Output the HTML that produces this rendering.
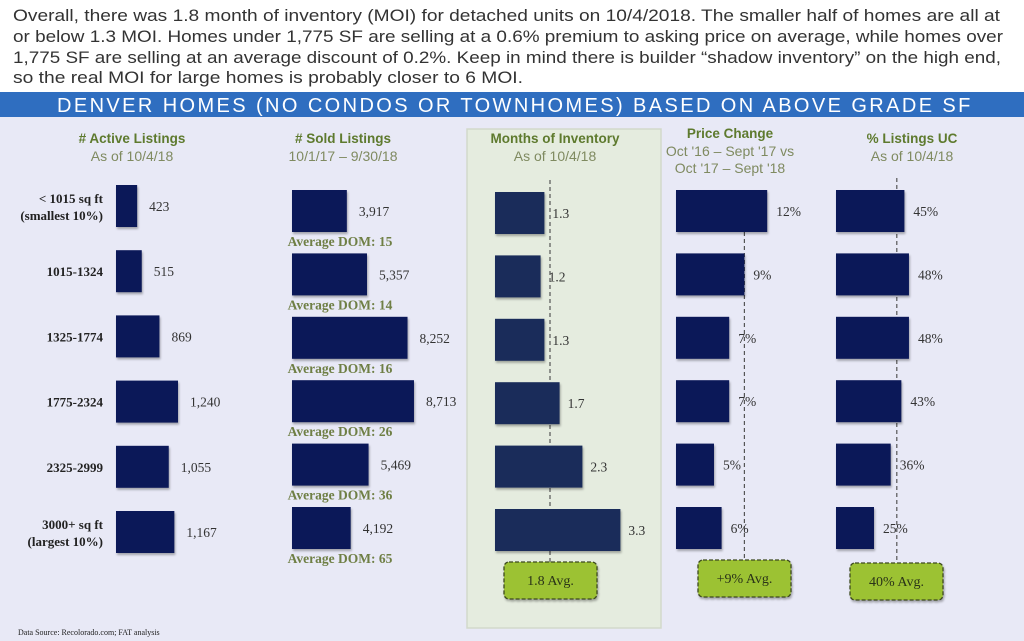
<!DOCTYPE html>
<html><head><meta charset="utf-8">
<style>
html,body{margin:0;padding:0;background:#fff;}
svg{display:block;}
.hd{font-family:"Liberation Sans",sans-serif;font-weight:bold;font-size:13.5px;fill:#5e7a2e;}
.sub{font-family:"Liberation Sans",sans-serif;font-size:14px;fill:#7f8a60;}
.val{font-family:"Liberation Serif",serif;font-size:13.5px;fill:#333;}
.rl{font-family:"Liberation Serif",serif;font-weight:bold;font-size:13px;fill:#222;}
.dom{font-family:"Liberation Serif",serif;font-weight:bold;font-size:13.5px;fill:#6f7f45;}
.avg{font-family:"Liberation Serif",serif;font-size:14px;fill:#2a3318;}
</style></head>
<body>
<svg id="chart" width="1024" height="641" viewBox="0 0 1024 641" xmlns="http://www.w3.org/2000/svg">
<rect x="0" y="0" width="1024" height="92" fill="#fff"/>
<g font-family="Liberation Sans, sans-serif" font-size="16.5" fill="#333">
<text x="13" y="21" textLength="987" lengthAdjust="spacingAndGlyphs">Overall, there was 1.8 month of inventory (MOI) for detached units on 10/4/2018.  The smaller half of homes are all at</text>
<text x="13" y="42" textLength="990" lengthAdjust="spacingAndGlyphs">or below 1.3 MOI.  Homes under 1,775 SF are selling at a 0.6% premium to asking price on average, while homes over</text>
<text x="13" y="63" textLength="988" lengthAdjust="spacingAndGlyphs">1,775 SF are selling at an average discount of 0.2%.  Keep in mind there is builder “shadow inventory” on the high end,</text>
<text x="13" y="83" textLength="510" lengthAdjust="spacingAndGlyphs">so the real MOI for large homes is probably closer to 6 MOI.</text>
</g>
<rect x="0" y="117" width="1024" height="524" fill="#e8e9f6"/>
<rect x="0" y="92" width="1024" height="25" fill="#2f6ec0"/>
<text x="515" y="112" text-anchor="middle" font-family="Liberation Sans, sans-serif" font-size="20" letter-spacing="2.6" fill="#fff" textLength="916" lengthAdjust="spacing">DENVER HOMES (NO CONDOS OR TOWNHOMES) BASED ON ABOVE GRADE SF</text>
<rect x="467" y="129" width="194" height="499" fill="#e5ecdf" stroke="#d2d9cb" stroke-width="1.5"/>

<text class="hd" x="132" y="143" text-anchor="middle"># Active Listings</text>
<text class="sub" x="132" y="161" text-anchor="middle">As of 10/4/18</text>
<text class="hd" x="343" y="143" text-anchor="middle"># Sold Listings</text>
<text class="sub" x="343" y="161" text-anchor="middle">10/1/17 – 9/30/18</text>
<text class="hd" x="555" y="143" text-anchor="middle">Months of Inventory</text>
<text class="sub" x="555" y="161" text-anchor="middle">As of 10/4/18</text>
<text class="hd" x="730" y="138" text-anchor="middle">Price Change</text>
<text class="sub" x="730" y="156" text-anchor="middle">Oct '16 – Sept '17 vs</text>
<text class="sub" x="730" y="173" text-anchor="middle">Oct '17 – Sept '18</text>
<text class="hd" x="912" y="143" text-anchor="middle">% Listings UC</text>
<text class="sub" x="912" y="161" text-anchor="middle">As of 10/4/18</text>

<g id="marks"></g>
<text x="18" y="635" font-family="Liberation Serif, serif" font-size="8" fill="#222">Data Source: Recolorado.com; FAT analysis</text>
</svg>
<script>
const categories = [["< 1015 sq ft","(smallest 10%)"],["1015-1324"],["1325-1774"],["1775-2324"],["2325-2999"],["3000+ sq ft","(largest 10%)"]];
const activeListings = [423,515,869,1240,1055,1167];
const soldListings = [3917,5357,8252,8713,5469,4192];
const avgDom = [15,14,16,26,36,65];
const moiValues = [1.3,1.2,1.3,1.7,2.3,3.3];
const priceChange = [12,9,7,7,5,6];
const ucPercent = [45,48,48,43,36,25];
const moiAvgLabel = "1.8 Avg.";
const priceAvg = 9;
const ucAvg = 40;

const NS = "http://www.w3.org/2000/svg";
const g = document.getElementById('marks');
function mk(tag, attrs, txt){const e=document.createElementNS(NS,tag);for(const k in attrs)e.setAttribute(k,attrs[k]);if(txt!==undefined)e.textContent=txt;g.appendChild(e);return e;}
const fmt = v => v.toLocaleString('en-US');
const BH = 42;
const rowA = i => 185 + 65.2*i;
const rowB = i => 190 + 63.4*i;
const xActive = v => v*0.05;
const xSold = v => v*0.014;
const xMoi = v => v*38;
const xPrice = v => v*7.6;
const xUc = v => v*1.52;

// dashed average lines (drawn first, behind bars)
function dash(x,y1,y2,name){const l=mk('line',{x1:x,x2:x,y1:y1,y2:y2,stroke:'#555','stroke-width':1.2,'stroke-dasharray':'4,3'});

}
dash(550,180,562,'moi-average-line');
dash(676+xPrice(priceAvg),232,560,'price-average-line');
dash(836+xUc(ucAvg),178,563,'uc-average-line');

function bar(x,y,w,fill,name){const r=mk('rect',{x:x,y:y,width:Math.max(w,1),height:BH,fill:fill,style:'filter:drop-shadow(1px 2px 1px rgba(0,0,0,0.3))'});

}
function label(x,y,t,cls,name,anchor){const e=mk('text',{x:x,y:y,class:cls,'text-anchor':anchor||'start'},t);

}

categories.forEach((c,i)=>{
  const ya=rowA(i), cy=ya+BH/2;
  if(c.length===2){label(103,cy-3,c[0],'rl','row-label-'+i,'end');label(103,cy+14,c[1],'rl','row-label-'+i+'-sub','end');}
  else label(103,cy+5,c[0],'rl','row-label-'+i,'end');
  bar(116,ya,xActive(activeListings[i]),'#0b1858','active-bar-'+i);
  label(116+xActive(activeListings[i])+12,cy+5,fmt(activeListings[i]),'val','active-value-'+i);
  const yb=rowB(i), cb=yb+BH/2;
  bar(292,yb,xSold(soldListings[i]),'#0b1858','sold-bar-'+i);
  label(292+xSold(soldListings[i])+12,cb+5,fmt(soldListings[i]),'val','sold-value-'+i);
  label(340,yb+BH+14,'Average DOM: '+avgDom[i],'dom','avg-dom-'+i,'middle');
  const ym=yb+2;
  bar(495,ym,xMoi(moiValues[i]),'#1a2c5a','moi-bar-'+i);
  label(495+xMoi(moiValues[i])+8,ym+BH/2+5,moiValues[i].toFixed(1),'val','moi-value-'+i);
  bar(676,yb,xPrice(priceChange[i]),'#0b1858','price-bar-'+i);
  label(676+xPrice(priceChange[i])+9,cb+5,priceChange[i]+'%','val','price-value-'+i);
  bar(836,yb,xUc(ucPercent[i]),'#0b1858','uc-bar-'+i);
  label(836+xUc(ucPercent[i])+9,cb+5,ucPercent[i]+'%','val','uc-value-'+i);
});

function avgBox(x,y,t,name){
  const r=mk('rect',{x:x,y:y,width:93,height:37,rx:5,fill:'#9cc233',stroke:'#3d4a1e','stroke-width':1.3,'stroke-dasharray':'4,2',style:'filter:drop-shadow(1px 2px 1px rgba(0,0,0,0.3))'});
  
  
  const e=mk('text',{x:x+46.5,y:y+23,class:'avg','text-anchor':'middle'},t);
  
  
}
avgBox(504,562,moiAvgLabel,'moi-average-box');
avgBox(698,560,'+'+priceAvg+'% Avg.','price-average-box');
avgBox(850,563,ucAvg+'% Avg.','uc-average-box');
</script>
</body></html>
